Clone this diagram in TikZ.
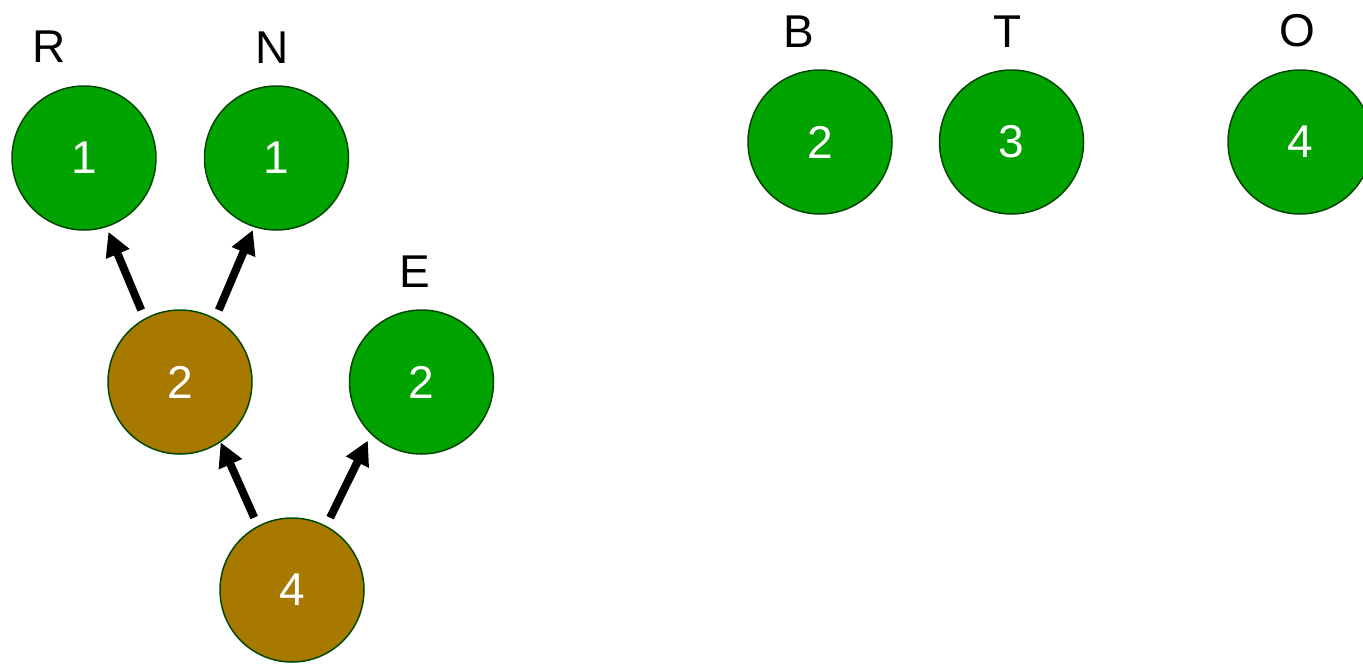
\documentclass[tikz,border=0pt]{standalone}
\usepackage{fontspec}
\setmainfont{Liberation Sans}
\usetikzlibrary{positioning,arrows.meta}
\definecolor{leafgreen}{RGB}{0,163,0}
\definecolor{mergebrown}{RGB}{168,121,0}
\definecolor{rimgreen}{RGB}{0,72,0}
\tikzset{  leaf/.style={circle,draw=rimgreen,fill=leafgreen,line width=0.75pt,minimum size=72pt,inner sep=0pt,text=white,font=\fontsize{23}{23}\selectfont},
  merged/.style={leaf,fill=mergebrown},
  sym/.style={inner sep=0pt,font=\fontsize{23}{23}\selectfont},
  link/.style={-{Triangle[length=12pt,width=12pt]},line width=4pt,shorten <=4.5pt} }

\begin{document}
\begin{tikzpicture}[x=0.5pt,y=-0.5pt]
   \clip (0,0) rectangle (1363,664);
   % tree built so far
   \node[leaf] (r) at (84,158) {1};
   \node[leaf,right=23.5pt of r] (n) {1};
   \node[merged] (rn) at (180,382) {2};
   \node[leaf,right=48pt of rn] (e) {2};
   \node[merged] (top) at (292,590) {4};
   % nodes still waiting
   \node[leaf] (b) at (820,142) {2};
   \node[leaf,right=23pt of b] (t) {3};
   \node[leaf,right=71.5pt of t] (o) {4};
   % symbols
   \node[sym] at (49,47) {R};
   \node[sym] at (272,48) {N};
   \node[sym] at (415,272) {E};
   \node[sym] at (799,32) {B};
   \node[sym] at (1008,32) {T};
   \node[sym] at (1297,31) {O};
   \draw[link,shorten >=2.5pt] (rn.119) -- (r.-72);
   \draw[link,shorten >=1.5pt] (rn.61) -- (n.-108);
   \draw[link] (top.118) -- (rn.-56);
   \draw[link,shorten >=3.5pt] (top.62) -- (e.-134);
  \end{tikzpicture}
\end{document}
